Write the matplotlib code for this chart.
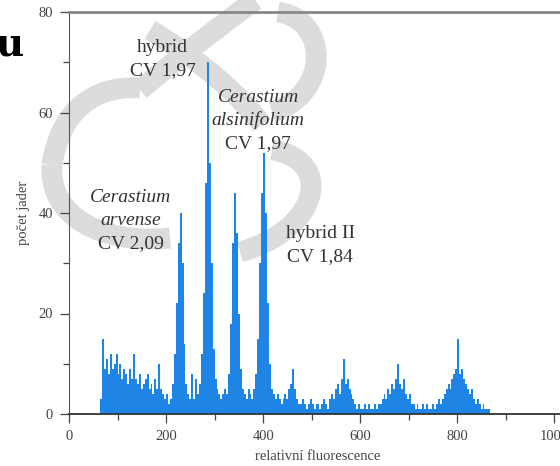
"""Flow cytometry histogram of Cerastium nuclei (relative fluorescence)."""

import matplotlib
matplotlib.use("Agg")
import matplotlib.pyplot as plt  # noqa: E402
import numpy as np  # noqa: E402
from matplotlib.path import Path  # noqa: E402
from matplotlib.patches import PathPatch  # noqa: E402

# histogram: 4-channel bins starting at channel 64
BIN_START = 64
BIN_WIDTH = 4
counts = [
    3, 15, 9, 11, 8, 12, 9, 10, 12, 8,        # 64-100
    10, 7, 9, 8, 6, 9, 7, 12, 7, 6,           # 104-140
    8, 5, 6, 7, 8, 5, 6, 4, 7, 5,             # 144-180
    10, 5, 4, 3, 4, 2, 3, 6, 12, 22,          # 184-220
    34, 40, 30, 14, 6, 4, 3, 8, 3, 7,         # 224-260
    4, 6, 12, 24, 46, 70, 50, 30, 13, 7,      # 264-300
    5, 4, 3, 4, 5, 4, 8, 18, 34, 44,          # 304-340
    36, 20, 9, 5, 4, 3, 5, 4, 3, 5,           # 344-380
    8, 15, 30, 44, 52, 40, 22, 10, 5, 4,      # 384-420
    3, 4, 3, 2, 3, 4, 3, 5, 6, 9,             # 424-460
    5, 3, 2, 2, 3, 2, 1, 2, 3, 2,             # 464-500
    1, 2, 2, 1, 2, 3, 2, 1, 3, 4,             # 504-540
    3, 5, 6, 4, 7, 11, 6, 7, 5, 4,            # 544-580
    3, 2, 1, 2, 1, 1, 2, 1, 2, 1,             # 584-620
    1, 2, 1, 2, 2, 3, 4, 3, 5, 4,             # 624-660
    6, 5, 7, 10, 6, 5, 7, 4, 3, 4,            # 664-700
    2, 2, 1, 2, 1, 1, 2, 1, 2, 1,             # 704-740
    1, 2, 1, 2, 3, 2, 3, 4, 5, 6,             # 744-780
    5, 7, 8, 9, 15, 8, 9, 7, 6, 5,            # 784-820
    4, 5, 3, 2, 3, 2, 1, 2, 1, 1,             # 824-860
    1,                                         # 864
]

# peak labels: (text lines, italic flags, channel, count)
labels = [
    (["hybrid", "CV 1,97"], [False, False], 193, 73),
    (["Cerastium", "alsinifolium", "CV 1,97"], [True, True, False], 390, 63),
    (["Cerastium", "arvense", "CV 2,09"], [True, True, False], 127, 43),
    (["hybrid II", "CV 1,84"], [False, False], 518, 36),
]

BLUE = "#1e84e6"
SERIF = ["Liberation Serif", "DejaVu Serif"]

fig = plt.figure(figsize=(5.6, 4.66), dpi=100)


def px(x, y):
    return x / 560, 1 - y / 466


# grey watermark swirl behind the plot
wm_strokes = [
    [(255, 0), (215, 30), (175, 60), (140, 90)],
    [(140, 88), (95, 85), (60, 110), (52, 165)],
    [(52, 165), (48, 215), (100, 245), (170, 238)],
    [(150, 30), (200, 60), (240, 95), (262, 125)],
    [(278, 12), (330, 20), (330, 95), (272, 112)],
    [(272, 150), (335, 160), (320, 230), (240, 252)],
]
for pts in wm_strokes:
    path = Path([px(*p) for p in pts],
                [Path.MOVETO, Path.CURVE4, Path.CURVE4, Path.CURVE4])
    fig.add_artist(PathPatch(path, transform=fig.transFigure, fill=False,
                             lw=15, ec="#dcdcdc", capstyle="butt", zorder=-1))

ax = fig.add_axes([69 / 560, 52 / 466, 497 / 560, 402 / 466])
ax.patch.set_alpha(0)

edges = BIN_START + BIN_WIDTH * np.arange(len(counts) + 1)
ax.stairs(counts, edges, fill=True, color=BLUE, lw=0)

ax.set_xlim(0, 1024)
ax.set_ylim(0, 80)
ax.set_xticks([0, 200, 400, 600, 800, 1000])
ax.set_xticks(range(100, 1000, 200), minor=True)
ax.set_yticks([0, 20, 40, 60, 80])
ax.set_yticks(range(10, 80, 20), minor=True)
ax.tick_params(which="major", length=6.5, width=0.9, color="#444",
               labelsize=10.5, labelcolor="#444", pad=5)
ax.tick_params(which="minor", length=4.5, width=0.9, color="#444")
for t in ax.get_xticklabels() + ax.get_yticklabels():
    t.set_family(SERIF)

ax.spines["top"].set_color("#888")
ax.spines["top"].set_linewidth(2)
ax.spines["left"].set_color("#555")
ax.spines["bottom"].set_color("#333")
ax.spines["bottom"].set_linewidth(1.3)
ax.spines["right"].set_color("#555")

ax.set_xlabel("relativní fluorescence", family=SERIF, fontsize=10.5,
              color="#444", labelpad=5)
ax.set_ylabel("počet jader", family=SERIF, fontsize=10.5, color="#444",
              labelpad=6)

for lines, italics, x, y in labels:
    for i, (line, it) in enumerate(zip(lines, italics)):
        ax.annotate(line, (x, y), xytext=(0, -23 * i * 0.72),
                    textcoords="offset points", ha="center", va="center",
                    family=SERIF, style="italic" if it else "normal",
                    fontsize=14, color="#333")

fig.text(-0.009, 1 - 56 / 466, "u", family=["DejaVu Serif"],
         fontweight="bold", fontsize=28, color="black", va="baseline")

fig.savefig("out.png", dpi=100)
